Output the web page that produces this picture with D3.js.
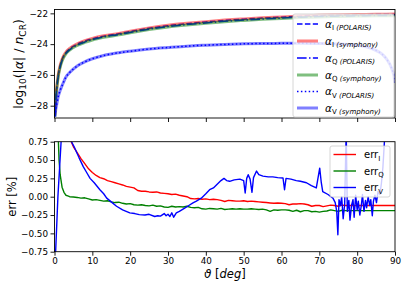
<!DOCTYPE html>
<html>
<head>
<meta charset="utf-8">
<script src="https://cdn.jsdelivr.net/npm/d3@7"></script>
<style>
  body { margin: 0; background: #fff; }
  text { font-family: "DejaVu Sans", sans-serif; }
</style>
</head>
<body>
<svg id="chart" width="407" height="288"></svg>
<script>
// ---- data ----
const thetaAlpha = [0.1, 0.3, 0.6, 1, 1.5, 2, 3, 4, 6, 8, 10, 13, 17, 20, 25, 30, 35, 40, 45, 50, 55, 60, 65, 70, 75, 80, 85, 90];
const alphaI_polaris  = [-28.6, -27.6, -26.8, -26.0, -25.4, -25.0, -24.55, -24.3, -24.0, -23.8, -23.65, -23.48, -23.32, -23.18, -22.97, -22.8, -22.67, -22.56, -22.46, -22.38, -22.31, -22.25, -22.19, -22.15, -22.12, -22.1, -22.08, -22.07];
const alphaI_symphony = [-28.58, -27.58, -26.78, -25.98, -25.38, -24.98, -24.53, -24.28, -23.98, -23.78, -23.63, -23.46, -23.3, -23.16, -22.95, -22.78, -22.65, -22.54, -22.44, -22.36, -22.29, -22.23, -22.17, -22.13, -22.1, -22.08, -22.06, -22.05];
const alphaQ_polaris  = [-28.7, -27.7, -26.88, -26.07, -25.47, -25.07, -24.62, -24.37, -24.07, -23.87, -23.71, -23.54, -23.38, -23.24, -23.03, -22.86, -22.73, -22.62, -22.52, -22.44, -22.37, -22.31, -22.25, -22.21, -22.18, -22.16, -22.14, -22.13];
const alphaQ_symphony = [-28.72, -27.72, -26.9, -26.09, -25.49, -25.09, -24.64, -24.39, -24.09, -23.89, -23.73, -23.56, -23.4, -23.26, -23.05, -22.88, -22.75, -22.64, -22.54, -22.46, -22.39, -22.33, -22.27, -22.23, -22.2, -22.18, -22.16, -22.15];

const thetaV = [0.1, 0.3, 0.6, 1, 1.5, 2, 3, 4, 6, 8, 10, 13, 17, 20, 25, 30, 35, 40, 45, 50, 55, 60, 65, 70, 75, 78, 80, 82, 84, 86, 87, 88, 89, 89.5, 89.8, 89.9];
const alphaV_polaris  = [-28.7, -28.3, -27.9, -27.4, -27.0, -26.7, -26.15, -25.85, -25.42, -25.15, -24.95, -24.74, -24.56, -24.46, -24.32, -24.22, -24.13, -24.07, -24.02, -23.98, -23.96, -23.95, -23.95, -23.96, -23.99, -24.03, -24.08, -24.15, -24.3, -24.55, -24.75, -25.05, -25.5, -25.85, -26.2, -26.5];
const alphaV_symphony = [-28.7, -28.3, -27.9, -27.4, -27.0, -26.7, -26.15, -25.85, -25.42, -25.15, -24.95, -24.74, -24.56, -24.46, -24.32, -24.22, -24.13, -24.07, -24.02, -23.98, -23.96, -23.95, -23.95, -23.96, -23.99, -24.03, -24.08, -24.15, -24.3, -24.55, -24.75, -25.05, -25.5, -25.85, -26.2, -26.5];

const thetaErr = [0.2, 0.5, 1, 1.2, 1.5, 2, 2.5, 3, 3.5, 4,
  5, 6, 7, 8, 9, 10, 11, 12, 13, 14, 15, 16, 17, 18, 19, 20, 21, 22, 23, 24,
  25, 26, 27, 28, 29, 30, 31, 32, 33, 34, 35, 36, 37, 38, 39, 40, 41, 42, 43, 44,
  45, 46, 47, 48, 49, 50, 51, 52, 53, 54, 55, 56, 57, 58, 59, 60, 61, 62, 63, 64,
  65, 66, 67, 68, 69, 70, 71, 72, 73, 74, 75, 76, 77, 80, 85, 90];
const errI = [6, 4, 2.8, 2.5, 2.2, 1.8, 1.4, 1.15, 0.95, 0.8,
  0.68, 0.6, 0.52, 0.45, 0.38, 0.33, 0.29, 0.26, 0.245, 0.22,
  0.205, 0.19, 0.175, 0.16, 0.14, 0.13, 0.12, 0.085, 0.075, 0.075,
  0.065, 0.06, 0.065, 0.05, 0.045, 0.04, 0.03, 0.035, 0.02, 0.01,
  0.0, -0.025, -0.03, -0.025, -0.035, -0.03, -0.04, -0.035, -0.04, -0.05,
  -0.065, -0.05, -0.055, -0.06, -0.06, -0.055, -0.065, -0.06, -0.065, -0.07,
  -0.075, -0.08, -0.085, -0.09, -0.085, -0.09, -0.095, -0.11, -0.1, -0.1,
  -0.095, -0.1, -0.11, -0.13, -0.12, -0.12, -0.135, -0.125, -0.115, -0.12,
  -0.13, -0.115, -0.12, -0.12, -0.12, -0.12];
const errQ = [5, 2.5, 0.8, 0.5, 0.3, 0.13, 0.06, 0.02, 0.01, 0.0,
  -0.005, -0.01, -0.02, -0.015, -0.03, -0.045, -0.04, -0.05, -0.06, -0.055,
  -0.07, -0.08, -0.075, -0.09, -0.1, -0.095, -0.11, -0.115, -0.11, -0.12,
  -0.125, -0.115, -0.13, -0.125, -0.14, -0.145, -0.13, -0.14, -0.135, -0.14,
  -0.13, -0.145, -0.15, -0.145, -0.165, -0.17, -0.16, -0.165, -0.17, -0.16,
  -0.175, -0.17, -0.165, -0.17, -0.165, -0.17, -0.17, -0.165, -0.17, -0.175,
  -0.17, -0.18, -0.2, -0.18, -0.185, -0.18, -0.18, -0.185, -0.2, -0.185,
  -0.205, -0.19, -0.19, -0.205, -0.2, -0.21, -0.2, -0.195, -0.18, -0.19,
  -0.2, -0.185, -0.19, -0.19, -0.19, -0.19];

const thetaErrV = [0.1, 0.9, 1.8, 2.5, 3.5, 4.5, 5.2, 5.9, 6.5, 7.6, 8.5, 9.4, 10.5, 12, 13, 13.8, 15, 16.4, 18, 19.9,
  21.2, 22.4, 23.9, 25, 26.5, 27.3, 28, 29, 29.5, 30, 30.5, 31, 31.5, 32.2, 33, 34.4, 35.5, 36.6, 37.5, 38.8,
  40, 41, 42, 42.8, 44, 44.8, 45.5, 46.3, 47.5, 49, 50, 50.4, 50.8, 51.2, 51.7, 52.2, 52.6, 53.4, 54, 55.1,
  56.5, 57.7, 59, 60.4, 60.8, 61.2, 62.5, 63.9, 65, 66.6, 67.9, 69.2, 70.1, 70.5, 70.9, 72.3, 73.6, 74.2, 74.6, 74.9,
  75.2, 75.6, 75.9, 76.3, 76.7, 77.1, 77.4, 77.8, 78.1, 78.5, 78.9, 79.2, 79.6, 80.0, 80.3, 80.7, 81.1, 81.4, 81.8, 82.2,
  82.5, 82.9, 83.3, 83.6, 84.0, 84.3, 84.7, 85.1, 85.5, 86, 86.4, 86.8, 87.2, 87.7, 88.5, 90];
const errV = [-1.0, 0.0, 0.8, 1.5, 1.1, 0.75, 0.68, 0.6, 0.53, 0.41, 0.33, 0.25, 0.19, 0.095, 0.04, -0.02, -0.07, -0.13, -0.18, -0.22,
  -0.23, -0.245, -0.25, -0.24, -0.27, -0.26, -0.265, -0.23, -0.26, -0.24, -0.27, -0.22, -0.28, -0.22, -0.2, -0.155, -0.12, -0.085, -0.06, -0.02,
  0.04, 0.095, 0.12, 0.16, 0.22, 0.25, 0.22, 0.21, 0.23, 0.24, 0.22, 0.05, 0.25, 0.3, 0.24, 0.06, 0.26, 0.35, 0.3, 0.28,
  0.27, 0.27, 0.26, 0.255, 0.095, 0.25, 0.24, 0.22, 0.21, 0.19, 0.15, 0.12, 0.39, 0.2, 0.07, 0.03, -0.02, -0.08, -0.2, -0.52,
  -0.04, -0.12, 0.0, -0.3, -0.1, 0.9, -0.2, -0.05, -0.32, -0.12, -0.04, -0.28, 0.02, -0.18, -0.06, -0.25, -0.12, 0.03, -0.2, -0.05,
  -0.15, 0.0, -0.12, -0.04, -0.26, -0.06, 0.02, -0.08, 0.07, 0.03, 0.18, 0.4, 0.75, 1.2, 2, 3];

const xTicks = [0, 10, 20, 30, 40, 50, 60, 70, 80, 90];
const yTicksTop = [-28, -26, -24, -22];
const yTicksBottom = [-0.75, -0.5, -0.25, 0, 0.25, 0.5, 0.75];

// ---- layout ----
const left = 54.5, right = 395;
const topPanel = { y0: 9.5, y1: 118 };
const botPanel = { y0: 141.7, y1: 251.7 };

const svg = d3.select('#chart');

const x = d3.scaleLinear().domain([0, 90]).range([left, right]);
const yTop = d3.scaleLinear().domain([-28.8, -21.75]).range([topPanel.y1, topPanel.y0]);
const yBot = d3.scaleLinear().domain([-0.75, 0.75]).range([botPanel.y1, botPanel.y0]);

const defs = svg.append('defs');
defs.append('clipPath').attr('id', 'clipTop').append('rect')
    .attr('x', left).attr('y', topPanel.y0).attr('width', right - left).attr('height', topPanel.y1 - topPanel.y0);
defs.append('clipPath').attr('id', 'clipBot').append('rect')
    .attr('x', left).attr('y', botPanel.y0).attr('width', right - left).attr('height', botPanel.y1 - botPanel.y0);

function drawAxes(yScale, panel, yTicks, yFmt, showXLabels) {
    const gx = svg.append('g')
        .attr('transform', `translate(0,${panel.y1})`)
        .call(d3.axisBottom(x).tickValues(xTicks).tickSize(4).tickSizeOuter(0)
            .tickFormat(showXLabels ? d3.format('d') : ''));
    const gy = svg.append('g')
        .attr('transform', `translate(${left},0)`)
        .call(d3.axisLeft(yScale).tickValues(yTicks).tickSize(4).tickSizeOuter(0).tickFormat(yFmt));
    for (let g of [gx, gy]) {
        g.select('.domain').remove();
        g.selectAll('line').attr('stroke', '#000').attr('stroke-width', 0.9);
        g.selectAll('text').attr('fill', '#000').style('font-size', '8.8px')
            .style('font-family', '"DejaVu Sans", sans-serif');
    }
    gy.selectAll('text').attr('x', -6.5);
    gx.selectAll('text').attr('y', 6);
    svg.append('rect')
        .attr('x', left).attr('y', panel.y0)
        .attr('width', right - left).attr('height', panel.y1 - panel.y0)
        .attr('fill', 'none').attr('stroke', '#000').attr('stroke-width', 0.9);
}

// ---- top panel ----
const gTop = svg.append('g').attr('clip-path', 'url(#clipTop)');
const lineTop = (th) => d3.line().x((d, i) => x(th[i])).y(d => yTop(d)).curve(d3.curveMonotoneX);

const topSeries = [
    { th: thetaAlpha, vals: alphaI_polaris,  color: 'blue',  width: 1.5, dash: '5.5,2.4', opacity: 1, sub: 'I', tag: '(POLARIS)' },
    { th: thetaAlpha, vals: alphaI_symphony, color: 'red',   width: 3,   dash: null, opacity: 0.5, sub: 'I', tag: '(symphony)' },
    { th: thetaAlpha, vals: alphaQ_polaris,  color: 'blue',  width: 1.5, dash: '9.6,2.4,1.5,2.4', opacity: 1, sub: 'Q', tag: '(POLARIS)' },
    { th: thetaAlpha, vals: alphaQ_symphony, color: 'green', width: 3,   dash: null, opacity: 0.5, sub: 'Q', tag: '(symphony)' },
    { th: thetaV,     vals: alphaV_polaris,  color: 'blue',  width: 1.5, dash: '1.5,2.4', opacity: 1, sub: 'V', tag: '(POLARIS)' },
    { th: thetaV,     vals: alphaV_symphony, color: 'blue',  width: 3,   dash: null, opacity: 0.5, sub: 'V', tag: '(symphony)' }
];

for (let s of topSeries) {
    gTop.append('path')
        .datum(s.vals)
        .attr('d', lineTop(s.th))
        .attr('fill', 'none')
        .attr('stroke', s.color)
        .attr('stroke-width', s.width)
        .attr('stroke-opacity', s.opacity)
        .attr('stroke-dasharray', s.dash);
}
drawAxes(yTop, topPanel, yTicksTop, d3.format('d'), false);

// top legend
const legTop = svg.append('g');
legTop.append('rect')
    .attr('x', 293).attr('y', 14).attr('width', 101).attr('height', 103)
    .attr('rx', 2).attr('fill', '#fff').attr('fill-opacity', 0.8)
    .attr('stroke', '#ccc').attr('stroke-width', 0.8);
const rowsTop = [24, 41, 58, 75, 91.5, 108];
topSeries.forEach((s, i) => {
    legTop.append('line')
        .attr('x1', 297).attr('x2', 318).attr('y1', rowsTop[i]).attr('y2', rowsTop[i])
        .attr('stroke', s.color).attr('stroke-width', s.width)
        .attr('stroke-opacity', s.opacity).attr('stroke-dasharray', s.dash);
    const t = legTop.append('text').attr('x', 325).attr('y', rowsTop[i] + 3.5)
        .style('font-size', '10.5px');
    t.append('tspan').text('α').style('font-style', 'italic');
    t.append('tspan').text(s.sub).style('font-size', '7px').attr('dy', 2.5);
    t.append('tspan').text(' ' + s.tag).style('font-size', '7px').style('font-style', 'italic');
});

// top y label
const ylabTop = svg.append('text')
    .attr('transform', 'translate(23,64) rotate(-90)')
    .attr('text-anchor', 'middle')
    .style('font-size', '12.5px');
ylabTop.append('tspan').text('log');
ylabTop.append('tspan').text('10').style('font-size', '9px').attr('dy', 2.8);
ylabTop.append('tspan').text('(|').attr('dy', -2.8);
ylabTop.append('tspan').text('α').style('font-style', 'italic');
ylabTop.append('tspan').text('| / ');
ylabTop.append('tspan').text('n').style('font-style', 'italic');
ylabTop.append('tspan').text('CR').style('font-size', '9px').attr('dy', 2.8);
ylabTop.append('tspan').text(')').attr('dy', -2.8);

// ---- bottom panel ----
const gBot = svg.append('g').attr('clip-path', 'url(#clipBot)');
const lineBot = (th) => d3.line().x((d, i) => x(th[i])).y(d => yBot(d));

const botSeries = [
    { th: thetaErr,  vals: errI, color: 'red',   sub: 'I' },
    { th: thetaErr,  vals: errQ, color: 'green', sub: 'Q' },
    { th: thetaErrV, vals: errV, color: 'blue',  sub: 'V' }
];
for (let s of botSeries) {
    gBot.append('path')
        .datum(s.vals)
        .attr('d', lineBot(s.th))
        .attr('fill', 'none')
        .attr('stroke', s.color)
        .attr('stroke-width', 1.4)
        .attr('stroke-linejoin', 'round');
}
drawAxes(yBot, botPanel, yTicksBottom, d3.format('.2f'), true);

const legBot = svg.append('g');
legBot.append('rect')
    .attr('x', 330).attr('y', 146).attr('width', 60).attr('height', 51)
    .attr('rx', 2).attr('fill', '#fff').attr('fill-opacity', 0.8)
    .attr('stroke', '#ccc').attr('stroke-width', 0.8);
const rowsBot = [154.5, 171, 187.5];
botSeries.forEach((s, i) => {
    legBot.append('line')
        .attr('x1', 333.5).attr('x2', 356).attr('y1', rowsBot[i]).attr('y2', rowsBot[i])
        .attr('stroke', s.color).attr('stroke-width', 1.4);
    const t = legBot.append('text').attr('x', 364).attr('y', rowsBot[i] + 3.5)
        .style('font-size', '10px');
    t.append('tspan').text('err');
    t.append('tspan').text(s.sub).style('font-size', '7px').attr('dy', 2.5);
});

// bottom labels
svg.append('text')
    .attr('transform', 'translate(16,196.7) rotate(-90)')
    .attr('text-anchor', 'middle')
    .style('font-size', '11.5px')
    .text('err [%]');

const xlab = svg.append('text')
    .attr('x', 225).attr('y', 277.5)
    .attr('text-anchor', 'middle')
    .style('font-size', '11.5px');
xlab.append('tspan').text('ϑ').style('font-style', 'italic');
xlab.append('tspan').text(' [');
xlab.append('tspan').text('deg').style('font-style', 'italic');
xlab.append('tspan').text(']');
</script>
</body>
</html>
